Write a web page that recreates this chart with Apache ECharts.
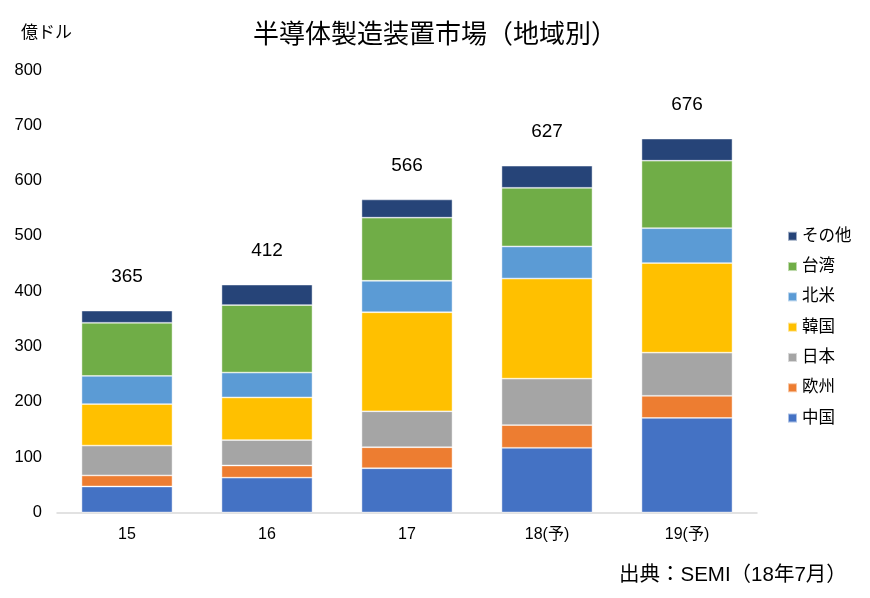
<!DOCTYPE html>
<html>
<head>
<meta charset="utf-8">
<script src="https://cdn.jsdelivr.net/npm/echarts@6/dist/echarts.min.js"></script>
<style>
html,body{margin:0;padding:0;background:#fff;}
#c{width:870px;height:598px;}
</style>
</head>
<body>
<div id="c"></div>
<script>
var categories = ['15', '16', '17', '18(予)', '19(予)'];
var china  = [47, 63, 80, 117, 171];
var europe = [20, 22, 38, 41, 40];
var japan  = [54, 46, 65, 84, 78];
var korea  = [75, 77, 179, 181, 162];
var usa    = [51, 45, 57, 58, 63];
var taiwan = [96, 122, 114, 106, 122];
var other  = [22, 37, 33, 40, 40];
var totals = [365, 412, 566, 627, 676];
var yTicks = [0, 100, 200, 300, 400, 500, 600, 700, 800];

var FONT = "'Liberation Sans', 'Noto Sans CJK JP', sans-serif";
var seriesDefs = [
  {name: '中国', data: china, color: '#4472C4'},
  {name: '欧州', data: europe, color: '#ED7D31'},
  {name: '日本', data: japan, color: '#A5A5A5'},
  {name: '韓国', data: korea, color: '#FFC000'},
  {name: '北米', data: usa, color: '#5B9BD5'},
  {name: '台湾', data: taiwan, color: '#70AD47'},
  {name: 'その他', data: other, color: '#264478'}
];

var series = seriesDefs.map(function (s, i) {
  var o = {
    name: s.name,
    type: 'bar',
    stack: 'total',
    barWidth: '65%',
    data: s.data,
    itemStyle: {color: s.color, borderColor: 'rgba(255,255,255,0.55)', borderWidth: 0.8},
    emphasis: {disabled: true}
  };
  if (i === seriesDefs.length - 1) {
    o.label = {
      show: true,
      position: 'top',
      distance: 24,
      fontSize: 19,
      fontFamily: FONT,
      color: '#000',
      formatter: function (p) { return totals[p.dataIndex]; }
    };
  }
  return o;
});

var chart = echarts.init(document.getElementById('c'), null, {renderer: 'canvas'});
chart.setOption({
  animation: false,
  backgroundColor: '#fff',
  textStyle: {fontFamily: FONT},
  title: [
    {text: '半導体製造装置市場（地域別）', left: 'center', top: 18,
     textStyle: {fontSize: 26, fontWeight: 'normal', color: '#000', fontFamily: FONT}},
    {text: '億ドル', left: 16, top: 20,
     textStyle: {fontSize: 17, fontWeight: 'normal', color: '#000', fontFamily: FONT}},
    {text: '出典：SEMI（18年7月）', left: 614, top: 560,
     textStyle: {fontSize: 20.5, fontWeight: 'normal', color: '#000', fontFamily: FONT}}
  ],
  legend: {
    orient: 'vertical',
    left: 782,
    top: 223,
    itemWidth: 9,
    itemHeight: 9,
    itemGap: 13.8,
    icon: 'rect',
    data: ['その他', '台湾', '北米', '韓国', '日本', '欧州', '中国'],
    textStyle: {fontSize: 16.5, color: '#000', fontFamily: FONT, lineHeight: 16}
  },
  grid: {left: 57, right: 113, top: 70, bottom: 85.5, containLabel: false},
  xAxis: {
    type: 'category',
    data: categories,
    axisLine: {lineStyle: {color: '#d9d9d9', width: 1.5}},
    axisTick: {show: false},
    axisLabel: {fontSize: 16, color: '#000', margin: 14, fontFamily: FONT}
  },
  yAxis: {
    type: 'value',
    min: 0,
    max: 800,
    interval: 100,
    splitLine: {show: false},
    axisLine: {show: false},
    axisTick: {show: false},
    axisLabel: {fontSize: 16.5, color: '#000', margin: 15, fontFamily: FONT,
      formatter: function (v) { return yTicks.indexOf(v) >= 0 ? String(v) : ''; }}
  },
  series: series
});
</script>
</body>
</html>
